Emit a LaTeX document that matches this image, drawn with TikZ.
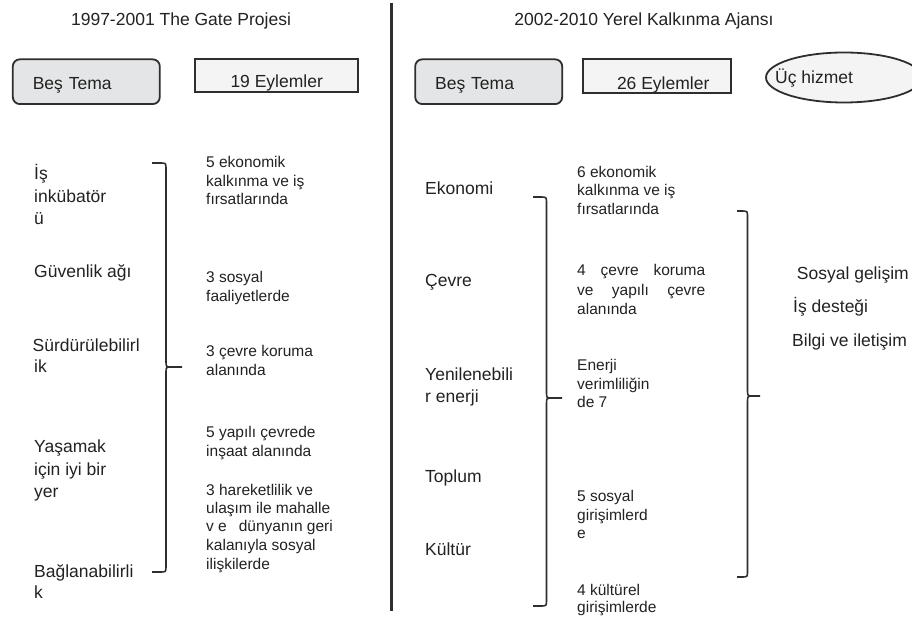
\documentclass[tikz,border=0pt]{standalone}
\usepackage{fontspec}
\setmainfont{Liberation Sans}
\usetikzlibrary{shapes.geometric}
\definecolor{txt}{HTML}{222222}
\definecolor{linec}{HTML}{2E2E2E}
\definecolor{temafill}{HTML}{E4E5E6}
\definecolor{eylfill}{HTML}{F4F4F4}
\newcommand\mybrace[7]{%
  \coordinate (#1top) at (#2,#5);
  \coordinate (#1tip) at (#4,#6);
  \coordinate (#1bot) at (#2,#7);
  \draw[brc] (#1top) -- ({#3-6},#5) .. controls (#3,#5) .. (#3,{#5+6}) -- (#3,{#6-6}) .. controls (#3,#6) .. ({#3+6},#6) -- (#1tip);
  \draw[brc] ({#3+6},#6) .. controls (#3,#6) .. (#3,{#6+6}) -- (#3,{#7-6}) .. controls (#3,#7) .. ({#3-6},#7) -- (#1bot);
}
\tikzset{
  txtbase/.style={inner sep=0pt, anchor=base west, text=txt},
  big/.style={txtbase, font=\fontsize{17.5}{21}\selectfont},
  small/.style={txtbase, font=\fontsize{15.5}{19}\selectfont},
  brc/.style={line width=1.6pt, draw=linec},
  temabox/.style={draw=linec, line width=1.8pt, fill=temafill, rounded corners=7pt,
    minimum width=147pt, minimum height=44.7pt, inner ysep=0pt, inner xsep=20pt,
    text width=107pt, align=left, text height=15.2pt, text depth=0pt,
    font=\fontsize{17.5}{21}\selectfont, text=txt},
  eylbox/.style={draw=linec, line width=1.8pt, fill=eylfill,
    inner ysep=0pt, text depth=0pt, align=center,
    font=\fontsize{17.5}{21}\selectfont, text=txt},
  hizmetell/.style={ellipse, draw=linec, line width=1.8pt, fill=eylfill,
    minimum width=156pt, minimum height=50pt, inner sep=0pt},
}
\begin{document}
\begin{tikzpicture}[x=1pt,y=-1pt]
\clip (0,0) rectangle (912,620);
\fill[white] (0,0) rectangle (912,620);

% titles
\node[txtbase, anchor=base, font=\fontsize{17.5}{21}\selectfont] (title1) at (181,25.7) {1997-2001 The Gate Projesi};
\node[txtbase, anchor=base, font=\fontsize{17.5}{21}\selectfont] (title2) at (644,25.7) {2002-2010 Yerel Kalkınma Ajansı};

% divider
\coordinate (divtop) at (391.5,3);
\coordinate (divbot) at (391.5,611);
\draw[line width=3pt, draw=linec] (divtop) -- (divbot);

% header boxes
\node[temabox] (tema1) at (86.3,81.7) {Beş Tema};
\node[eylbox, minimum width=163.3pt, minimum height=32.7pt, text height=23.2pt] (eyl1) at (276.7,75.7) {19 Eylemler};
\node[temabox] (tema2) at (488.7,81.7) {Beş Tema};
\node[eylbox, minimum width=147.7pt, minimum height=34pt, text height=26pt] (eyl2) at (657.2,76.3) {\hspace*{12pt}26 Eylemler};
\node[hizmetell] (hizmet) at (844,77.5) {};
\node[big] (hizmettxt) at (775,83.3) {Üç hizmet};

% left labels
\node[big] (la1) at (34,179.3) {İş};
\node[big] (la2) at (34,202.7) {inkübatör};
\node[big] (la3) at (34,224.5) {ü};
\node[big] (lb1) at (34,277.7) {Güvenlik ağı};
\node[big] (lc1) at (32.5,351.7) {Sürdürülebilirl};
\node[big] (lc2) at (34,372) {ik};
\node[big] (ld1) at (34,452.7) {Yaşamak};
\node[big] (ld2) at (34,475) {için iyi bir};
\node[big] (ld3) at (34,497.3) {yer};
\node[big] (le1) at (34,577.3) {Bağlanabilirli};
\node[big] (le2) at (34,598.3) {k};

% left brace
\mybrace{lbr}{152}{166}{182}{163}{367}{572}

% left actions
\node[small] (ma1) at (206,167.7) {5 ekonomik};
\node[small] (ma2) at (206,186.5) {kalkınma ve iş};
\node[small] (ma3) at (206,205) {fırsatlarında};
\node[small] (mb1) at (206,282.3) {3 sosyal};
\node[small] (mb2) at (206,301) {faaliyetlerde};
\node[small] (mc1) at (206,356.7) {3 çevre koruma};
\node[small] (mc2) at (206,375) {alanında};
\node[small] (md1) at (206,437.3) {5 yapılı çevrede};
\node[small] (md2) at (206,456) {inşaat alanında};
\node[small] (me1) at (206,495) {3 hareketlilik ve};
\node[small] (me2) at (206,513) {ulaşım ile mahalle};
\node[small] (me3) at (206,531.7) {v e\hspace{12pt}dünyanın geri};
\node[small] (me4) at (206,550) {kalanıyla sosyal};
\node[small] (me5) at (206,569) {ilişkilerde};

% right labels
\node[big] (ra) at (425,194.3) {Ekonomi};
\node[big] (rb) at (425,286) {Çevre};
\node[big] (rc1) at (425,380) {Yenilenebili};
\node[big] (rc2) at (425,402) {r enerji};
\node[big] (rd) at (425,482.3) {Toplum};
\node[big] (re) at (425,555.7) {Kültür};

% right brace 1
\mybrace{rbr}{533}{546.5}{562}{197}{398}{606}

% right actions
\node[small] (sa1) at (577,177.7) {6 ekonomik};
\node[small] (sa2) at (577,196) {kalkınma ve iş};
\node[small] (sa3) at (577,214.3) {fırsatlarında};
\node[small] (sb1) at (577,276) {\makebox[128pt][s]{4 çevre koruma}};
\node[small] (sb2) at (577,295.7) {\makebox[128pt][s]{ve yapılı çevre}};
\node[small] (sb3) at (577,314.3) {alanında};
\node[small] (sc1) at (577,370.7) {Enerji};
\node[small] (sc2) at (577,389.3) {verimliliğin};
\node[small] (sc3) at (577,407.3) {de 7};
\node[small] (sd1) at (577,501) {5 sosyal};
\node[small] (sd2) at (577,520) {girişimlerd};
\node[small] (sd3) at (577,538.3) {e};
\node[small] (se1) at (577,595) {4 kültürel};
\node[small] (se2) at (577,612.7) {girişimlerde};

% right brace 2
\mybrace{sbr}{737}{747.5}{760}{211}{396}{577}

% services
\node[big] (ta) at (796.7,279.3) {Sosyal gelişim};
\node[big] (tb) at (793,312) {İş desteği};
\node[big] (tc) at (792,346.7) {Bilgi ve iletişim};
\end{tikzpicture}
\end{document}
